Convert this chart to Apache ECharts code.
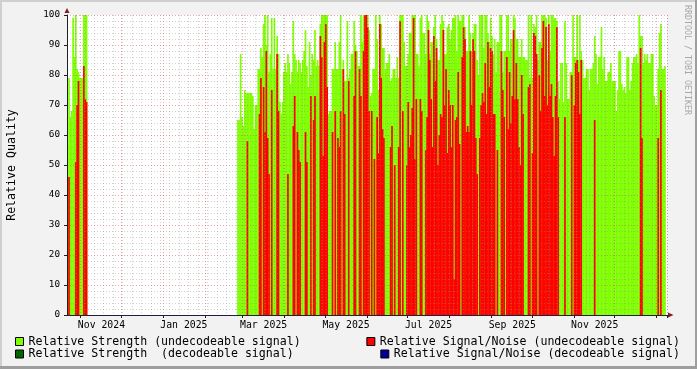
<!DOCTYPE html>
<html><head><meta charset="utf-8">
<script src="https://cdn.jsdelivr.net/npm/echarts@6/dist/echarts.min.js"></script>
<style>html,body{margin:0;padding:0;background:#F2F2F2}#c{width:697px;height:369px}</style>
</head><body><div id="c"></div>
<script>
// ---- data ----
const startDate = '2024-10-22';
const dayCount = 444;
const seriesNames = [
  'Relative Strength (undecodeable signal)',
  'Relative Signal/Noise (undecodeable signal)',
  'Relative Strength  (decodeable signal)',
  'Relative Signal/Noise (decodeable signal)'
];
const xTickLabels = ['Nov 2024','Jan 2025','Mar 2025','May 2025','Jul 2025','Sep 2025','Nov 2025'];
const monthNames = ['Jan','Feb','Mar','Apr','May','Jun','Jul','Aug','Sep','Oct','Nov','Dec'];

const earlyStart = '2024-10-22';
const strengthEarly = [57,79,66,68,99,86,100,82,81,79,79,79,100,100,100];
const snrEarly = [null,46,null,null,null,null,51,70,78,null,null,null,83,72,71];

const mainStart = '2025-02-25';
const strengthMain = [
65,65,87,66,63,75,74,74,74,74,
74,73,62,70,70,82,82,89,86,97,
100,90,100,81,87,99,82,99,82,93,
87,71,67,71,81,84,81,87,84,77,
81,98,87,85,81,85,84,81,85,88,
95,83,76,91,80,87,85,95,83,85,
83,97,100,100,100,100,100,67,68,68,
82,82,91,82,82,91,100,82,85,78,
78,98,79,82,87,87,98,90,88,83,
83,100,91,100,100,100,100,95,73,74,
82,82,100,92,75,100,97,89,89,82,
84,84,87,78,79,82,82,79,86,79,
100,100,100,91,83,83,87,94,94,100,
100,100,87,87,83,99,100,94,94,87,
100,98,87,91,91,96,100,92,85,85,
97,100,98,87,87,96,97,92,95,99,
99,100,88,100,98,98,100,100,96,88,
88,100,94,88,94,97,97,85,80,100,
100,100,89,100,100,94,91,99,93,87,
92,81,91,91,100,100,81,88,88,100,
100,88,92,92,100,99,92,92,86,86,
92,86,86,85,85,100,79,100,79,97,
96,100,85,91,91,100,100,100,99,85,
100,88,100,100,99,99,98,78,72,84,
84,71,98,84,72,72,81,81,100,86,
86,100,85,100,88,85,79,79,82,82,
75,82,82,84,93,87,77,86,86,96,
82,86,78,78,81,81,84,78,78,78,
68,75,88,88,77,75,76,74,86,86,
75,78,84,86,86,87,84,100,93,93,
84,87,85,87,84,84,87,87,73,70,
70,82,94,97,82,82,83
];
const snrMain = [
null,null,null,null,null,null,null,58,null,null,
null,null,null,null,null,null,67,79,null,76,
61,88,59,47,null,75,null,null,null,87,
68,null,null,null,null,null,null,47,null,null,
null,63,73,null,61,55,51,null,null,null,
61,51,null,null,73,null,65,73,null,null,
null,93,86,53,91,97,76,null,null,null,
61,null,68,null,59,56,68,null,82,67,
null,null,78,null,null,null,73,88,null,null,
82,73,null,88,100,100,96,68,null,68,
null,52,null,66,54,97,79,62,59,null,
null,null,null,56,63,null,50,null,null,56,
98,null,68,null,null,50,71,56,60,69,
99,52,72,null,null,72,68,null,null,55,
66,95,85,72,56,93,78,89,50,60,
67,66,95,70,82,54,75,70,56,70,
12,65,66,81,57,null,86,96,92,61,
63,61,88,70,92,88,59,47,null,59,
70,74,71,84,67,91,76,89,88,67,
67,null,55,null,null,88,75,66,null,86,
62,81,64,73,95,72,84,72,56,50,
80,67,null,null,null,76,77,null,54,94,
93,87,null,80,68,89,98,73,96,70,
97,73,77,66,53,73,96,66,null,null,
null,null,66,null,null,null,null,80,null,70,
84,85,81,67,85,null,null,null,null,null,
null,null,null,null,65,null,null,null,null,null,
null,null,null,null,null,null,null,null,null,null,
null,null,null,null,null,null,null,null,null,null,
null,null,null,null,null,null,null,null,89,59,
null,null,null,null,null,null,null,null,null,null,
null,59,null,75,null,null,null
];
const strengthDecodeable = [];
const snrDecodeable = [];

// ---- build table ----
const DAY = 86400000;
const t0 = Date.parse(startDate + 'T00:00:00Z');
const categories = [];
for (let i = 0; i < dayCount; i++) categories.push(new Date(t0 + i * DAY).toISOString().slice(0, 10));
function dayIndex(s) { return Math.round((Date.parse(s + 'T00:00:00Z') - t0) / DAY); }
function place(segments) {
  const arr = new Array(dayCount).fill(null);
  segments.forEach(([s, vals]) => { const o = dayIndex(s); vals.forEach((v, j) => { arr[o + j] = v; }); });
  return arr;
}
const strength = place([[earlyStart, strengthEarly], [mainStart, strengthMain]]);
const snr = place([[earlyStart, snrEarly], [mainStart, snrMain]]);
const strengthDec = place([[mainStart, strengthDecodeable]]);
const snrDec = place([[mainStart, snrDecodeable]]);

const MONO = 'DejaVu Sans Mono';
function fmtMonth(v) { return monthNames[+v.slice(5, 7) - 1] + ' ' + v.slice(0, 4); }
const isMonthStart = (i, v) => v.slice(8) === '01';
const isLabelDay = (i, v) => v.slice(8) === '16' && xTickLabels.indexOf(fmtMonth(v)) >= 0;
const isWeekStart = (i, v) => new Date(v + 'T00:00:00Z').getUTCDay() === 1;

const barCommon = { type: 'bar', barWidth: 1.7, barGap: '-100%', animation: false, xAxisIndex: 0 };
const legendCommon = {
  orient: 'horizontal', itemWidth: 8, itemHeight: 8, icon: 'rect', padding: 0, selectedMode: false,
  itemStyle: { borderColor: '#000', borderWidth: 1 },
  textStyle: { fontFamily: MONO, fontSize: 11.6, color: '#000' }
};

const chart = echarts.init(document.getElementById('c'), null, { renderer: 'canvas' });
chart.setOption({
  animation: false,
  backgroundColor: '#F2F2F2',
  grid: { left: 67, top: 15, width: 600, height: 300, show: true, backgroundColor: '#FFFFFF', borderWidth: 0, outerBoundsMode: 'none', containLabel: false },
  xAxis: [
    {
      type: 'category', data: categories, boundaryGap: true, z: 3,
      axisLine: { show: true, lineStyle: { color: '#1F1F3F', width: 1 } },
      axisTick: { show: true, length: 3, interval: isMonthStart, lineStyle: { color: '#1F1F1F' } },
      axisLabel: { interval: isLabelDay, formatter: fmtMonth, margin: 5, fontFamily: MONO, fontSize: 9.8, color: '#000', hideOverlap: false },
      splitLine: { show: true, interval: isMonthStart, lineStyle: { color: 'rgba(222,79,79,0.5)', type: [1, 2], width: 1 } }
    },
    {
      type: 'category', data: categories, boundaryGap: true, z: 3,
      axisLine: { show: false }, axisTick: { show: false }, axisLabel: { show: false },
      splitLine: { show: true, interval: isWeekStart, lineStyle: { color: 'rgba(143,143,143,0.4)', type: [1, 2], width: 1 } }
    }
  ],
  yAxis: {
    type: 'value', min: 0, max: 100, interval: 10, z: 3,
    axisLine: { show: true, lineStyle: { color: '#1F1F1F', width: 1 } },
    axisTick: { show: true, length: 3, lineStyle: { color: '#1F1F1F' } },
    axisLabel: { margin: 7, fontFamily: MONO, fontSize: 9.3, color: '#000' },
    splitLine: { show: true, lineStyle: { color: 'rgba(222,79,79,0.5)', type: [1, 2], width: 1 } },
    minorTick: { show: false, splitNumber: 5 },
    minorSplitLine: { show: true, lineStyle: { color: 'rgba(143,143,143,0.4)', type: [1, 2], width: 1 } },
    name: 'Relative Quality', nameLocation: 'middle', nameGap: 49, nameRotate: 90,
    nameTextStyle: { fontFamily: MONO, fontSize: 11.6, color: '#000' }
  },
  legend: [
    Object.assign({ data: [seriesNames[0]], left: 15, top: 335.5 }, legendCommon),
    Object.assign({ data: [seriesNames[2]], left: 15, top: 348 }, legendCommon),
    Object.assign({ data: [seriesNames[1]], right: 17, top: 335.5 }, legendCommon),
    Object.assign({ data: [seriesNames[3]], right: 17, top: 348 }, legendCommon)
  ],
  series: [
    Object.assign({ name: seriesNames[0], data: strength, itemStyle: { color: '#80FF00' }, z: 2 }, barCommon),
    Object.assign({ name: seriesNames[2], data: strengthDec, itemStyle: { color: '#006600' }, z: 2 }, barCommon),
    Object.assign({ name: seriesNames[1], data: snr, itemStyle: { color: '#FF0000' }, z: 2 }, barCommon),
    Object.assign({ name: seriesNames[3], data: snrDec, itemStyle: { color: '#000099' }, z: 2 }, barCommon)
  ],
  graphic: [
    { type: 'rect', shape: { x: 0, y: 0, width: 697, height: 2 }, style: { fill: '#CFCFCF' }, silent: true },
    { type: 'rect', shape: { x: 0, y: 0, width: 2, height: 369 }, style: { fill: '#CFCFCF' }, silent: true },
    { type: 'rect', shape: { x: 0, y: 366, width: 697, height: 3 }, style: { fill: '#9E9E9E' }, silent: true },
    { type: 'rect', shape: { x: 695, y: 0, width: 2, height: 369 }, style: { fill: '#9E9E9E' }, silent: true },
    { type: 'polygon', shape: { points: [[64.5, 13], [69.5, 13], [67, 8]] }, style: { fill: '#801F1F' }, silent: true, z: 10 },
    { type: 'polygon', shape: { points: [[668, 312.5], [668, 317.5], [673.5, 315]] }, style: { fill: '#801F1F' }, silent: true, z: 10 },
    { type: 'text', x: 687.5, y: 5, rotation: -Math.PI / 2, silent: true,
      style: { text: 'RRDTOOL / TOBI OETIKER', font: '8.3px "DejaVu Sans Mono"', fill: '#A8A8A8', align: 'left', verticalAlign: 'middle' } }
  ]
});
</script>
</body></html>
